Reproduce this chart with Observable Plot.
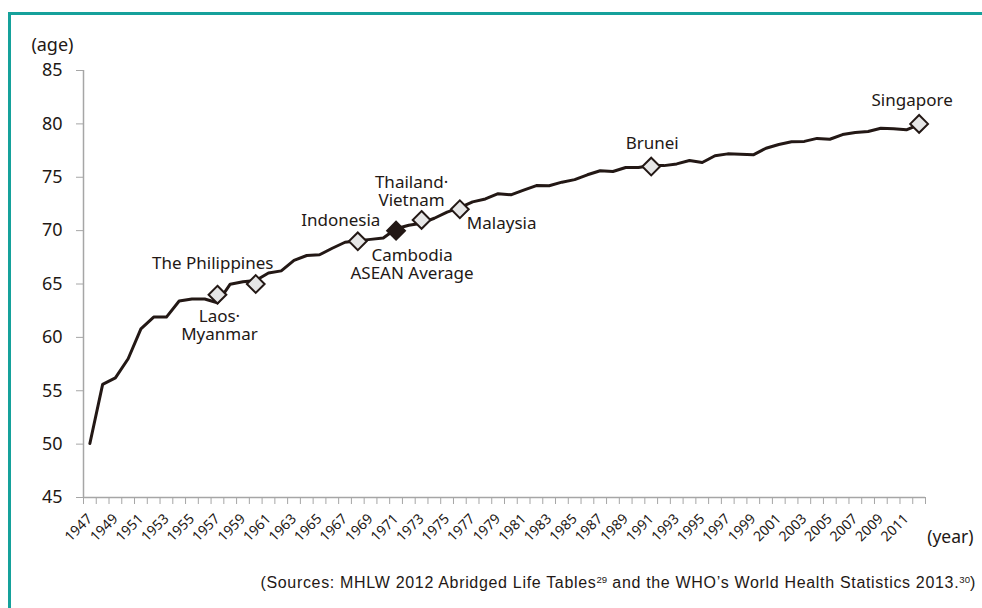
<!DOCTYPE html>
<html>
<head>
<meta charset="utf-8">
<script src="https://cdn.jsdelivr.net/npm/d3@7"></script>
<script src="https://cdn.jsdelivr.net/npm/@observablehq/plot@0.6"></script>
<style>
  html, body { margin: 0; padding: 0; background: #fff; }
  #wrap { position: relative; width: 982px; height: 608px; overflow: hidden; background: #fff; }
  #frame { position: absolute; left: 8px; top: 12px; width: 1000px; height: 700px;
           border-left: 3px solid #15a19b; border-top: 3px solid #15a19b; box-sizing: border-box; }
  #chart { position: absolute; left: 0; top: 0; }
  #caption { position: absolute; right: 6px; top: 574px; font-family: "Liberation Sans", Arial, sans-serif;
             font-size: 16px; letter-spacing: 0.68px; color: #231815; white-space: nowrap; line-height: 18px; }
  #caption sup { font-size: 0.6em; vertical-align: 0; position: relative; top: -0.55em; letter-spacing: 0; }
</style>
</head>
<body>
<div id="wrap">
  <div id="frame"></div>
  <div id="chart"></div>
  <div id="caption">(Sources: MHLW 2012 Abridged Life Tables<sup>29</sup> and the WHO’s World Health Statistics 2013.<sup>30</sup>)</div>
</div>
<script>
// Japan life expectancy series
const years = [1947,1948,1949,1950,1951,1952,1953,1954,1955,1956,1957,1958,1959,1960,1961,1962,1963,1964,1965,1966,
  1967,1968,1969,1970,1971,1972,1973,1974,1975,1976,1977,1978,1979,1980,1981,1982,1983,1984,1985,1986,
  1987,1988,1989,1990,1991,1992,1993,1994,1995,1996,1997,1998,1999,2000,2001,2002,2003,2004,2005,2006,
  2007,2008,2009,2010,2011,2012];
const lifeExpectancy = [50.06,55.6,56.2,58.0,60.8,61.9,61.9,63.41,63.6,63.59,63.24,64.98,65.21,65.32,66.03,66.23,67.21,67.67,67.74,68.35,
  68.91,69.05,69.18,69.31,70.17,70.5,70.7,71.16,71.73,72.15,72.69,72.97,73.46,73.35,73.79,74.22,74.2,74.54,74.78,75.23,
  75.61,75.54,75.91,75.92,76.11,76.09,76.25,76.57,76.38,77.01,77.19,77.16,77.1,77.72,78.07,78.32,78.36,78.64,78.56,79.0,
  79.19,79.29,79.59,79.55,79.44,79.94];

// ASEAN country markers
const markerNames  = ["Laos·\nMyanmar", "The Philippines", "Indonesia", "Cambodia\nASEAN Average", "Thailand·\nVietnam", "Malaysia", "Brunei", "Singapore"];
const markerYears  = [1957, 1960, 1968, 1971, 1973, 1976, 1991, 2012];
const markerValues = [64, 65, 69, 70, 71, 72, 76, 80];
const markerHighlight = [false, false, false, true, false, false, false, false];

// axis ticks
const yTicks = [45, 50, 55, 60, 65, 70, 75, 80, 85];
const xTickLabels = years.filter((y, i) => i % 2 === 0);

const series = years.map((year, i) => ({year, value: lifeExpectancy[i]}));
const markers = markerNames.map((name, i) => ({name, year: markerYears[i], value: markerValues[i], highlight: markerHighlight[i]}));
const boundaries = years.map(y => y - 0.5).concat([years[years.length - 1] + 0.5]);

// label placement (style, not data)
const labelPlacement = {
  "Laos·\nMyanmar":          {dx: 2,   dy: 45,  textAnchor: "middle"},
  "The Philippines":         {dx: -43, dy: -15, textAnchor: "middle"},
  "Indonesia":               {dx: -17, dy: -15, textAnchor: "middle"},
  "Cambodia\nASEAN Average": {dx: 16,  dy: 48,  textAnchor: "middle"},
  "Thailand·\nVietnam":      {dx: -10, dy: -14, textAnchor: "middle"},
  "Malaysia":                {dx: 7,   dy: 20,  textAnchor: "start"},
  "Brunei":                  {dx: 1,   dy: -18, textAnchor: "middle"},
  "Singapore":               {dx: -7,  dy: -18, textAnchor: "middle"}
};

const ink = "#231815";
const axisGray = "#a6a6a6";

const chart = Plot.plot({
  width: 982,
  height: 560,
  marginLeft: 83,
  marginRight: 57,
  marginTop: 70,
  marginBottom: 63,
  style: {fontFamily: "'Noto Sans', 'Open Sans', sans-serif", color: ink, background: "transparent"},
  x: {type: "linear", domain: [years[0] - 0.5, years[years.length - 1] + 0.5]},
  y: {domain: [45, 85]},
  marks: [
    Plot.ruleX([years[0] - 0.5], {stroke: axisGray, strokeWidth: 1.5}),
    Plot.ruleY([45], {stroke: axisGray, strokeWidth: 1.5}),
    Plot.axisY({ticks: yTicks, tickSize: 7, tickPadding: 14, stroke: axisGray, fill: ink, fontSize: 18, label: null}),
    Plot.axisX({ticks: boundaries, tickSize: 7, stroke: axisGray, tickFormat: () => "", label: null}),
    Plot.axisX({ticks: xTickLabels, tickSize: 0, tickPadding: 19, tickRotate: -45, tickFormat: d => String(d), fill: ink, fontSize: 14, label: null}),
    Plot.text(["(age)"], {frameAnchor: "top-left", dx: -10, dy: -32, textAnchor: "end", fontSize: 18, fill: ink, text: d => d}),
    Plot.text(["(year)"], {frameAnchor: "bottom-right", dx: 48, dy: 45, textAnchor: "end", fontSize: 17.5, fill: ink, text: d => d}),
    Plot.line(series, {x: "year", y: "value", stroke: ink, strokeWidth: 3, strokeLinejoin: "round"}),
    Plot.dot(markers, {x: "year", y: "value", symbol: "diamond2", r: 8, strokeWidth: 2, stroke: ink,
      fill: d => d.highlight ? ink : "#e6e6e6"}),
    ...markers.map(m => {
      const p = labelPlacement[m.name];
      return Plot.text([m], {x: "year", y: "value", text: "name", dx: p.dx, dy: p.dy, textAnchor: p.textAnchor,
        lineAnchor: "bottom", lineHeight: 1.05, fontSize: 17, fill: ink});
    })
  ]
});
document.getElementById("chart").appendChild(chart);
</script>
</body>
</html>
